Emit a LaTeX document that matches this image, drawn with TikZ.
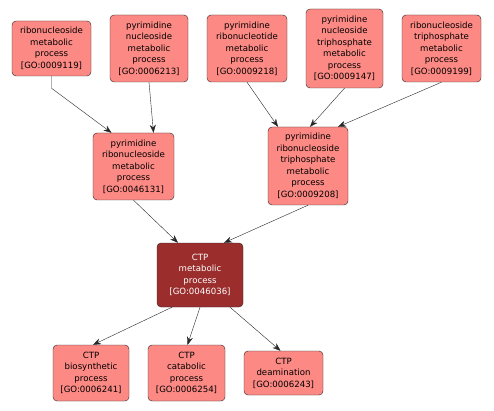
\documentclass[tikz,border=0pt]{standalone}
\usepackage{fontspec}
\setmainfont{DejaVu Sans}
\usetikzlibrary{arrows.meta}
\definecolor{goterm}{RGB}{252,137,132}
\definecolor{goroot}{RGB}{155,45,45}

\begin{document}
\begin{tikzpicture}[x=1pt,y=-1pt,
  term/.style={draw=black!85,fill=goterm,rounded corners=4pt,align=center,inner sep=0pt,
    font=\fontsize{8.6}{11.5}\selectfont},
  focus/.style={term,fill=goroot,text=white},
  isa/.style={draw=black!85,-{Stealth[length=8pt,width=6pt]}}]
\useasboundingbox (0,0) rectangle (494,411);

% top row
\node[term,minimum width=79,minimum height=55] (rnm) at (51.5,48.5) {ribonucleoside\\metabolic\\process\\{[GO:0009119]}};
\node[term,minimum width=78,minimum height=67] (pnm) at (149,48.5) {pyrimidine\\nucleoside\\metabolic\\process\\{[GO:0006213]}};
\node[term,minimum width=80,minimum height=67] (prtm) at (247,48.5) {pyrimidine\\ribonucleotide\\metabolic\\process\\{[GO:0009218]}};
\node[term,minimum width=77,minimum height=79] (pntm) at (344.5,48.5) {pyrimidine\\nucleoside\\triphosphate\\metabolic\\process\\{[GO:0009147]}};
\node[term,minimum width=79,minimum height=67] (rntm) at (441.5,48.5) {ribonucleoside\\triphosphate\\metabolic\\process\\{[GO:0009199]}};

% middle row
\node[term,minimum width=81,minimum height=67] (prm) at (133.5,166.5) {pyrimidine\\ribonucleoside\\metabolic\\process\\{[GO:0046131]}};
\node[term,minimum width=80,minimum height=78] (prtpm) at (308,166) {pyrimidine\\ribonucleoside\\triphosphate\\metabolic\\process\\{[GO:0009208]}};

% CTP
\node[focus,minimum width=86,minimum height=64] (ctp) at (200,275) {CTP\\metabolic\\process\\{[GO:0046036]}};

% bottom row
\node[term,minimum width=76,minimum height=56] (ctpbio) at (91,373) {CTP\\biosynthetic\\process\\{[GO:0006241]}};
\node[term,minimum width=77,minimum height=56] (ctpcat) at (186.5,373) {CTP\\catabolic\\process\\{[GO:0006254]}};
\node[term,minimum width=79,minimum height=44] (ctpdea) at (283.5,373) {CTP\\deamination\\{[GO:0006243]}};

% is_a links
\draw[isa] (rnm.south) -- ++(0,12) -- ([xshift=-22]prm.north);
\draw[isa] (pnm.south) -- ([xshift=20]prm.north);
\draw[isa] (prtm.south) -- ([xshift=-30]prtpm.north);
\draw[isa] (pntm.south) -- ([xshift=2]prtpm.north);
\draw[isa] (rntm.south) -- ([xshift=30]prtpm.north);
\draw[isa] (prm.south) -- ([xshift=-22]ctp.north);
\draw[isa] (prtpm.south) -- ([xshift=24]ctp.north);
\draw[isa] ([xshift=-28]ctp.south) -- ([xshift=2]ctpbio.north);
\draw[isa] (ctp.south) -- ([xshift=1]ctpcat.north);
\draw[isa] ([xshift=30]ctp.south) -- ([xshift=-3]ctpdea.north);
\end{tikzpicture}
\end{document}
